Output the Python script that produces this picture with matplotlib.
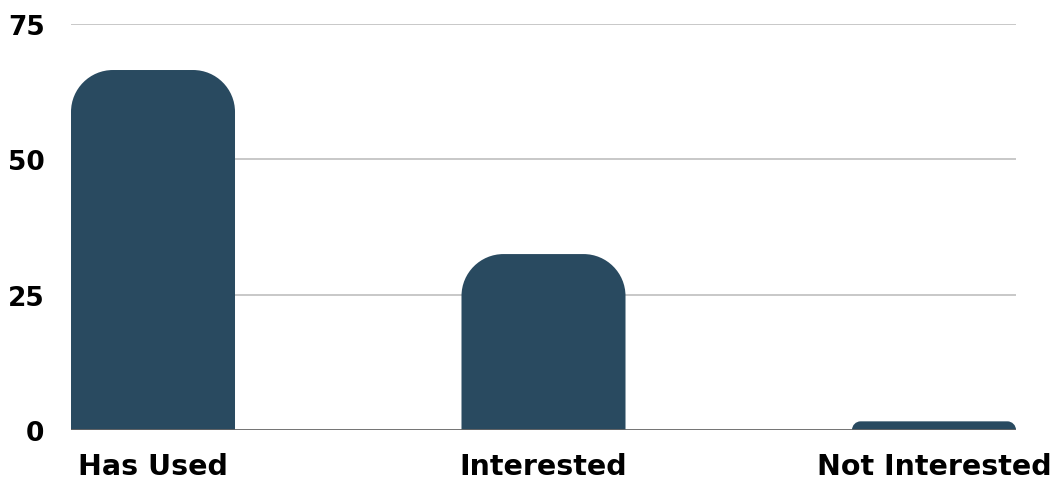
import numpy as np
import matplotlib.pyplot as plt
from matplotlib.path import Path
from matplotlib.patches import PathPatch

# dados
categorias = ["Has Used", "Interested", "Not Interested"]
valores = [66.5, 32.5, 1.6]
yticks = [0, 25, 50, 75]

cor_barra = "#294a60"
largura = 0.42
raio_px = 42

plt.rcParams["font.family"] = ["DejaVu Sans"]

fig = plt.figure(figsize=(10.57, 4.81), dpi=100)
ax = fig.add_axes([71 / 1057, 50 / 481, 945 / 1057, 406 / 481])

ax.set_xlim(-largura / 2, len(categorias) - 1 + largura / 2)
ax.set_ylim(0, 75)

# escala px -> dados, para cantos circulares em pixels
px_x = 945 / (ax.get_xlim()[1] - ax.get_xlim()[0])
px_y = 406 / 75
k = 0.5523

for i, v in enumerate(valores):
    x0, x1 = i - largura / 2, i + largura / 2
    ry = min(raio_px / px_y, v)
    rx = ry * px_y / px_x
    verts = [
        (x0, 0), (x0, v - ry),
        (x0, v - ry + k * ry), (x0 + rx - k * rx, v), (x0 + rx, v),
        (x1 - rx, v),
        (x1 - rx + k * rx, v), (x1, v - ry + k * ry), (x1, v - ry),
        (x1, 0), (x0, 0),
    ]
    codes = [Path.MOVETO, Path.LINETO,
             Path.CURVE4, Path.CURVE4, Path.CURVE4,
             Path.LINETO,
             Path.CURVE4, Path.CURVE4, Path.CURVE4,
             Path.LINETO, Path.CLOSEPOLY]
    ax.add_patch(PathPatch(Path(verts, codes), facecolor=cor_barra,
                           edgecolor="none", zorder=3))

for y in yticks[1:]:
    ax.axhline(y, color="#c4c4c4", lw=1.3, zorder=1)
ax.axhline(0, color="#666666", lw=2, zorder=4)

ax.set_yticks(yticks)
ax.set_yticklabels([str(t) for t in yticks])
ax.set_xticks(range(len(categorias)))
ax.set_xticklabels(categorias)
ax.tick_params(axis="y", length=0, pad=19, labelsize=19)
ax.tick_params(axis="x", length=0, pad=15.5, labelsize=20.5)
for lbl in ax.get_xticklabels() + ax.get_yticklabels():
    lbl.set_fontweight("bold")

for s in ax.spines.values():
    s.set_visible(False)

fig.savefig("out.png", dpi=100)
